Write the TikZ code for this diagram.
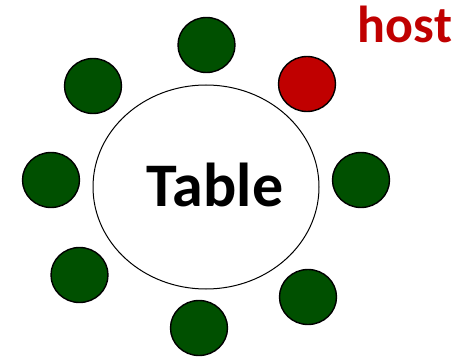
\documentclass[tikz,border=0pt]{standalone}
\usepackage{fontspec}
\setmainfont{Carlito}
\usetikzlibrary{shapes.geometric}
\definecolor{seatgreen}{HTML}{005000}
\definecolor{hostred}{HTML}{C00000}

\begin{document}
\begin{tikzpicture}[x=1pt,y=1pt,
  seat/.style={ellipse,draw,line width=1.4pt,fill=seatgreen,minimum width=57pt,minimum height=55pt,inner sep=0pt},
  hostseat/.style={seat,fill=hostred}]
  \useasboundingbox (0,0) rectangle (465,356);
  % table
  \node[ellipse,draw,line width=1pt,minimum width=226pt,minimum height=204pt,inner sep=0pt] (table) at (206,169) {};
  \node[anchor=base,inner sep=0pt] (tablelabel) at (215,149) {\fontsize{62}{74}\selectfont\bfseries Table};
  % seats
  \node[seat] (top) at (206.5,311) {};
  \node[seat] (topleft) at (93,270) {};
  \node[hostseat] (hostseat) at (307,272) {};
  \node[seat] (left) at (51,176) {};
  \node[seat] (right) at (361,176) {};
  \node[seat] (botleft) at (79.5,81) {};
  \node[seat] (botright) at (308,59) {};
  \node[seat] (bottom) at (199,28) {};
  % host label
  \node[anchor=base,inner sep=0pt,text=hostred] (hostlabel) at (405,313) {\fontsize{52}{62}\selectfont\bfseries host};
\end{tikzpicture}
\end{document}
